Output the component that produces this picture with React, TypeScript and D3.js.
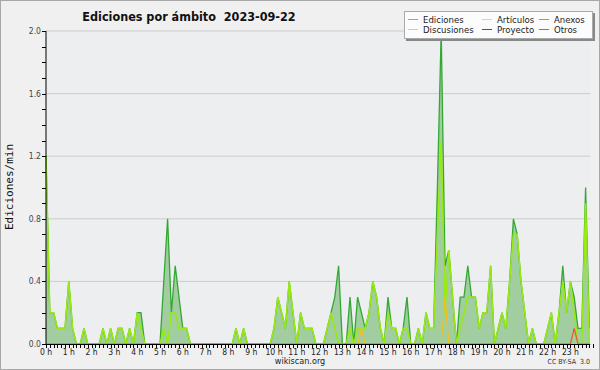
import React from "react";
import * as d3 from "d3";

// one value every 10 minutes (edits per minute), 144 points for the day
const ediciones = [
  1.2, 0.2, 0.2, 0.1, 0.1, 0.1, 0.4, 0.1, 0, 0, 0.1, 0, 0, 0, 0, 0.1, 0, 0.1, 0, 0.1, 0.1, 0, 0.1, 0,
  0.2, 0.2, 0, 0, 0, 0, 0, 0.4, 0.8, 0.2, 0.5, 0.3, 0.1, 0.1, 0, 0, 0, 0, 0, 0, 0, 0, 0, 0,
  0, 0, 0.1, 0, 0.1, 0, 0, 0, 0, 0, 0, 0, 0.1, 0.3, 0.2, 0.1, 0.4, 0.2, 0, 0.2, 0.1, 0.1, 0.1, 0,
  0, 0, 0.1, 0.2, 0.3, 0.5, 0, 0, 0.3, 0, 0.3, 0.2, 0.1, 0.2, 0.4, 0.3, 0.1, 0, 0.3, 0.1, 0.1, 0, 0.1, 0.3,
  0, 0, 0.1, 0, 0.2, 0.1, 0.1, 1.0, 2.0, 0.5, 0.6, 0.3, 0, 0.3, 0.3, 0.5, 0.3, 0.3, 0.1, 0.2, 0.2, 0.5, 0, 0.1,
  0.2, 0.1, 0.4, 0.8, 0.7, 0.4, 0.2, 0, 0.1, 0, 0, 0, 0.1, 0.2, 0, 0.2, 0.5, 0.2, 0.4, 0.3, 0.1, 0.1, 1.0, 0.1,
];
const articulos = [
  1.2, 0.2, 0.2, 0.1, 0.1, 0.1, 0.4, 0.1, 0, 0, 0.1, 0, 0, 0, 0, 0.1, 0, 0.1, 0, 0.1, 0.1, 0, 0.1, 0,
  0.2, 0.1, 0, 0, 0, 0, 0, 0.1, 0, 0.2, 0.2, 0.1, 0.1, 0.1, 0, 0, 0, 0, 0, 0, 0, 0, 0, 0,
  0, 0, 0.1, 0, 0.1, 0, 0, 0, 0, 0, 0, 0, 0.1, 0.3, 0.2, 0.1, 0.4, 0.2, 0, 0.2, 0.1, 0.1, 0.1, 0,
  0, 0, 0.1, 0.2, 0.1, 0, 0, 0, 0.1, 0, 0.1, 0.1, 0.1, 0.2, 0.4, 0.3, 0.1, 0, 0.2, 0.1, 0.1, 0, 0.1, 0.1,
  0, 0, 0.1, 0, 0.2, 0.1, 0.1, 0.7, 1.3, 0.2, 0.6, 0.3, 0, 0.1, 0.2, 0.3, 0.3, 0.3, 0.1, 0.2, 0.2, 0.5, 0, 0.1,
  0.2, 0.1, 0.4, 0.7, 0.7, 0.4, 0.2, 0, 0.1, 0, 0, 0, 0.1, 0.2, 0, 0.2, 0.4, 0.2, 0.4, 0.2, 0, 0, 0.9, 0,
];
// sparse series: [slot index, value]
const discusiones: [number, number][] = [[83, 0.1], [105, 0.3]];
const anexos: [number, number][] = [[139, 0.1]];

const hourLabels = d3.range(24).map((h) => `${h} h`);
const yLabels = [0, 0.4, 0.8, 1.2, 1.6, 2.0];

const legend = [
  { name: "Ediciones", color: "#6cc56c" },
  { name: "Artículos", color: "#c8ee55" },
  { name: "Anexos", color: "#ee7744" },
  { name: "Discusiones", color: "#f5cc44" },
  { name: "Proyecto", color: "#555555" },
  { name: "Otros", color: "#9955ee" },
];

const expand = (pts: [number, number][]) => {
  const arr = new Array(144).fill(0);
  pts.forEach(([i, v]) => (arr[i] = v));
  return arr;
};

const cond = "DejaVu Sans Condensed, DejaVu Sans, sans-serif";

export default function App() {
  const W = 600;
  const H = 370;
  const x = d3.scaleLinear().domain([0, 144]).range([46, 46 + 144 * 3.8]);
  const y = d3.scaleLinear().domain([0, 2]).range([344, 31]);

  const line = d3
    .line<number>()
    .x((_, i) => x(i))
    .y((d) => y(d));
  const area = d3
    .area<number>()
    .x((_, i) => x(i))
    .y0(y(0))
    .y1((d) => y(d));

  const minorY = d3.range(0, 21).map((k) => k / 10);
  const minorX = d3.range(0, 145);

  return (
    <svg
      width={W}
      height={H}
      style={{ position: "absolute", left: 0, top: 0 }}
      fontFamily="DejaVu Sans, sans-serif"
    >
      <rect x={0.5} y={0.5} width={W - 1} height={H - 1} fill="#f0f0f0" stroke="#a8a8a8" />
      <rect x={46} y={31} width={x(143) - 46 + 1} height={313} fill="#edeef0" />

      {yLabels.slice(1).map((v) => (
        <line key={v} x1={46} x2={x(143) + 1} y1={y(v)} y2={y(v)} stroke="#cccccc" />
      ))}

      <text
        x={189}
        y={21}
        textAnchor="middle"
        fontSize={12.5}
        fontWeight="bold"
        fontFamily={cond}
        fill="#111"
        style={{ whiteSpace: "pre" }}
      >
        {"Ediciones por ámbito  2023-09-22"}
      </text>

      <path d={area(ediciones) || ""} fill="#a1cda1" />
      <path d={line(ediciones) || ""} fill="none" stroke="#33a833" strokeWidth={1.3} />
      <path d={line(articulos) || ""} fill="none" stroke="#99ea10" strokeWidth={1.5} />
      <path d={line(expand(discusiones)) || ""} fill="none" stroke="#f2c21a" strokeWidth={1.2} />
      <path d={line(expand(anexos)) || ""} fill="none" stroke="#ee5522" strokeWidth={1.2} />

      {/* axes */}
      <line x1={46} x2={46} y1={31} y2={344} stroke="#000" />
      <line x1={46} x2={x(144) - 3} y1={344.5} y2={344.5} stroke="#000" />
      {minorY.map((v) => (
        <line key={v} x1={42} x2={46} y1={Math.round(y(v)) + 0.5} y2={Math.round(y(v)) + 0.5} stroke="#000" />
      ))}
      {minorX.map((i) => (
        <line key={i} x1={Math.round(x(i)) + 0.5} x2={Math.round(x(i)) + 0.5} y1={344} y2={348} stroke="#000" />
      ))}
      {yLabels.map((v) => (
        <text key={v} x={41} y={y(v) + 3} textAnchor="end" fontSize={8.5} fontFamily={cond} fill="#444">
          {v.toFixed(1)}
        </text>
      ))}
      {hourLabels.map((t, h) => (
        <text key={t} x={x(h * 6)} y={355} textAnchor="middle" fontSize={8.5} fontFamily={cond} fill="#222">
          {t}
        </text>
      ))}
      <text
        transform="translate(13,187) rotate(-90)"
        textAnchor="middle"
        fontSize={11}
        fontFamily="DejaVu Sans Mono, monospace"
        fill="#111"
      >
        Ediciones/min
      </text>
      <text x={300} y={364} textAnchor="middle" fontSize={9} fontFamily={cond} fill="#222">
        wikiscan.org
      </text>
      <text x={590} y={364} textAnchor="end" fontSize={7} fontFamily={cond} fill="#333" style={{ whiteSpace: "pre" }}>
        {"CC BY-SA  3.0"}
      </text>

      {/* legend */}
      <rect x={406} y={13} width={189} height={28} fill="#888" />
      <rect x={404.5} y={11.5} width={188} height={27} fill="#fcfcfc" stroke="#aaa" />
      {legend.map((l, k) => {
        const col = k % 3;
        const row = Math.floor(k / 3);
        const lx = [408, 482, 539][col];
        const ly = 19.5 + row * 10;
        return (
          <g key={l.name}>
            <line x1={lx} x2={lx + 10} y1={ly} y2={ly} stroke={l.color} />
            <text x={lx + 15} y={ly + 3.5} fontSize={9.5} fontFamily={cond} fill="#222">
              {l.name}
            </text>
          </g>
        );
      })}
    </svg>
  );
}
